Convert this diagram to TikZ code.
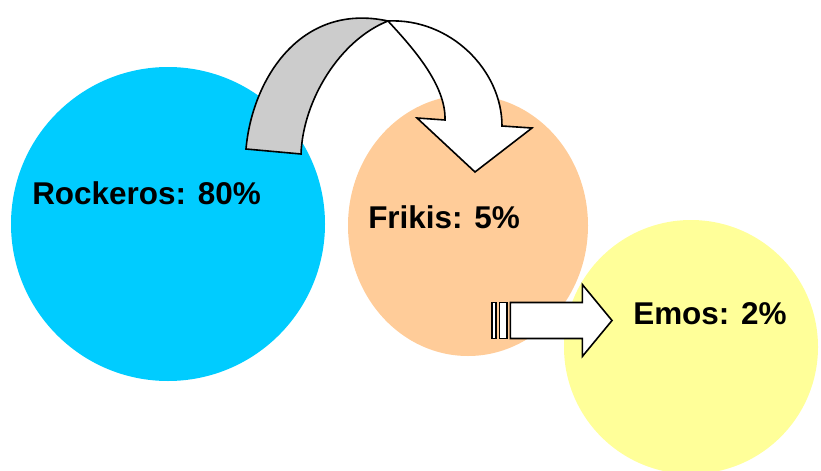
\documentclass[tikz,border=0pt]{standalone}
\usepackage{fontspec}
\setmainfont{Liberation Sans}
\usetikzlibrary{shapes.geometric}
\definecolor{rockblue}{HTML}{00CCFF}
\definecolor{frikpeach}{HTML}{FFCC99}
\definecolor{emoyellow}{HTML}{FFFF99}
\definecolor{ribbongray}{HTML}{CCCCCC}
\tikzset{
  blob/.style={ellipse, draw=none, inner sep=0pt},
  label/.style={anchor=base west, inner sep=0pt, font=\fontsize{23.6}{28}\selectfont\bfseries},
  ribbon/.style={draw=black, line width=1.2pt, line join=miter},
}
\begin{document}
\begin{tikzpicture}[x=0.75pt, y=-0.75pt]
\useasboundingbox (0,0) rectangle (821,471);

% groups as coloured discs
\node[blob, fill=rockblue, minimum width=235.5pt, minimum height=235.5pt] (rock) at (168,224) {};
\node[blob, fill=frikpeach, minimum width=180pt, minimum height=195.75pt] (frik) at (468,225.5) {};
\node[blob, fill=emoyellow, minimum width=190.5pt, minimum height=190.5pt] (emo) at (691,347) {};

% twisted curved arrow: grey back face
\path[ribbon, fill=ribbongray]
  (246,149) .. controls (252,80) and (300,2) .. (388,21)
  .. controls (340,40) and (303,100) .. (301,154) -- cycle;
% white front face with head
\path[ribbon, fill=white]
  (388,21) .. controls (450,18) and (502,70) .. (502,126)
  -- (532,128) -- (475,172) -- (417,118) -- (445,120)
  .. controls (446,85) and (413,48) .. (388,21) -- cycle;

% striped block arrow
\path[ribbon, fill=white] (491.7,302.5) rectangle (496,338.5);
\path[ribbon, fill=white] (499.3,302.5) rectangle (506.7,338.5);
\path[ribbon, fill=white]
  (510.3,302.5) -- (582.3,302.5) -- (582.3,284.5) -- (612,320.5)
  -- (582.3,356.5) -- (582.3,338.5) -- (510.3,338.5) -- cycle;

% labels
\node[label] (rocktxt) at (32,204) {Rockeros: 80\%};
\node[label] (friktxt) at (368,228) {Frikis: 5\%};
\node[label] (emotxt) at (633,324) {Emos: 2\%};
\end{tikzpicture}
\end{document}
